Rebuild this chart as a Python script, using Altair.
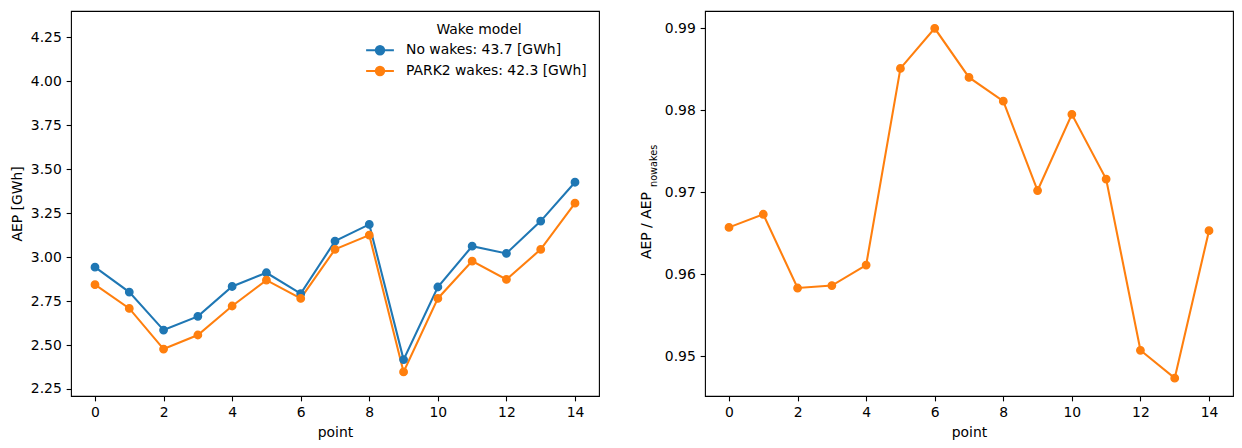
import altair as alt
import pandas as pd

# ---------------- data ----------------
points = list(range(15))
aep_nowake = [2.943, 2.801, 2.585, 2.663, 2.833, 2.911, 2.792, 3.091, 3.186,
              2.417, 2.830, 3.062, 3.021, 3.205, 3.426]
aep_park2 = [2.843, 2.708, 2.477, 2.557, 2.722, 2.869, 2.765, 3.044, 3.125,
             2.347, 2.765, 2.977, 2.873, 3.044, 3.307]
ratio = [0.9657, 0.9673, 0.9583, 0.9586, 0.9611, 0.9851, 0.9900, 0.9840,
         0.9811, 0.9702, 0.9795, 0.9716, 0.9507, 0.9473, 0.9653]
series_names = ["No wakes: 43.7 [GWh]", "PARK2 wakes: 42.3 [GWh]"]
colors = ["#1f77b4", "#ff7f0e"]
x_ticks = [0, 2, 4, 6, 8, 10, 12, 14]
left_ticks = [2.25, 2.50, 2.75, 3.00, 3.25, 3.50, 3.75, 4.00, 4.25]
right_ticks = [0.95, 0.96, 0.97, 0.98, 0.99]
legend_title = "Wake model"
left_ytitle = "AEP [GWh]"
right_ytitle_main = "AEP / AEP"
right_ytitle_sub = "nowakes"
xtitle = "point"

# ---------------- tables ----------------
df_left = pd.DataFrame({
    "point": points * 2,
    "aep": aep_nowake + aep_park2,
    "model": [series_names[0]] * len(points) + [series_names[1]] * len(points),
})
df_right = pd.DataFrame({"point": points, "ratio": ratio})

FS = 13.9
W, H = 528, 385
LW = 2.08
PT = 55

x_scale = alt.Scale(domain=[-0.7, 14.7], nice=False, zero=False)
x_axis = alt.Axis(values=x_ticks, format="d", title=xtitle)
color_scale = alt.Scale(domain=series_names, range=colors)

sym_path = "M-2,0H2M0.6,0A0.6,0.6,0,1,1,-0.6,0A0.6,0.6,0,1,1,0.6,0Z"
legend = alt.Legend(
    title=legend_title, orient="top-right", offset=12, padding=0,
    symbolType=sym_path, symbolSize=193, symbolStrokeWidth=LW,
    symbolOpacity=1, labelOffset=18, rowPadding=2.8, titlePadding=5.3,
    titleAnchor="middle", titleFontWeight="normal", titleFontSize=FS,
    labelFontSize=FS, labelLimit=0, labelColor="black", titleColor="black",
)

base_left = alt.Chart(df_left).encode(
    x=alt.X("point:Q", scale=x_scale, axis=x_axis),
    y=alt.Y("aep:Q",
            scale=alt.Scale(domain=[2.21, 4.40], nice=False, zero=False),
            axis=alt.Axis(values=left_ticks, format=".2f", title=left_ytitle)),
)
line_left = base_left.mark_line(strokeWidth=LW).encode(
    color=alt.Color("model:N", scale=color_scale, sort=series_names, legend=legend)
)
pts_left = base_left.mark_point(filled=True, size=PT, strokeWidth=1.39, opacity=1).encode(
    color=alt.Color("model:N", scale=color_scale, sort=series_names, legend=legend),
    stroke=alt.Stroke("model:N", scale=color_scale, sort=series_names, legend=legend),
)
left = alt.layer(line_left, pts_left).properties(width=W, height=H)

base_right = alt.Chart(df_right).encode(
    x=alt.X("point:Q", scale=x_scale, axis=x_axis),
    y=alt.Y("ratio:Q",
            scale=alt.Scale(domain=[0.94512, 0.99211], nice=False, zero=False),
            axis=alt.Axis(values=right_ticks, format=".2f", title=None)),
)
line_right = base_right.mark_line(strokeWidth=LW, color=colors[1])
pts_right = base_right.mark_point(filled=True, size=PT, strokeWidth=1.39,
                                  opacity=1, color=colors[1], stroke=colors[1])

t_main = alt.Chart(pd.DataFrame({"t": [right_ytitle_main]})).mark_text(
    angle=270, align="left", baseline="alphabetic", fontSize=FS,
    font="DejaVu Sans", color="black"
).encode(x=alt.value(-53.6), y=alt.value(248), text="t:N")
t_sub = alt.Chart(pd.DataFrame({"t": [right_ytitle_sub]})).mark_text(
    angle=270, align="left", baseline="alphabetic", fontSize=9.73,
    font="DejaVu Sans", color="black"
).encode(x=alt.value(-48), y=alt.value(176), text="t:N")

right = alt.layer(line_right, pts_right, t_main, t_sub).properties(width=W, height=H)

chart = alt.hconcat(
    left, right, spacing=39,
    padding={"left": 2, "top": 2, "right": 0, "bottom": 0}
).resolve_legend(
    color="independent", stroke="independent"
).resolve_scale(
    color="independent", stroke="independent"
).configure(
    font="DejaVu Sans"
).configure_view(
    stroke="black", strokeWidth=1.1
).configure_axis(
    grid=False, domain=False, tickColor="black", tickWidth=1.1, tickSize=4.86,
    labelPadding=4.86, labelFontSize=FS, labelColor="black", labelFont="DejaVu Sans",
    titleFontSize=FS, titleFontWeight="normal", titleColor="black",
    titleFont="DejaVu Sans", titlePadding=5.5, labelFlush=False,
)

chart.save("out.html", embed_options={"renderer": "svg", "actions": False})
